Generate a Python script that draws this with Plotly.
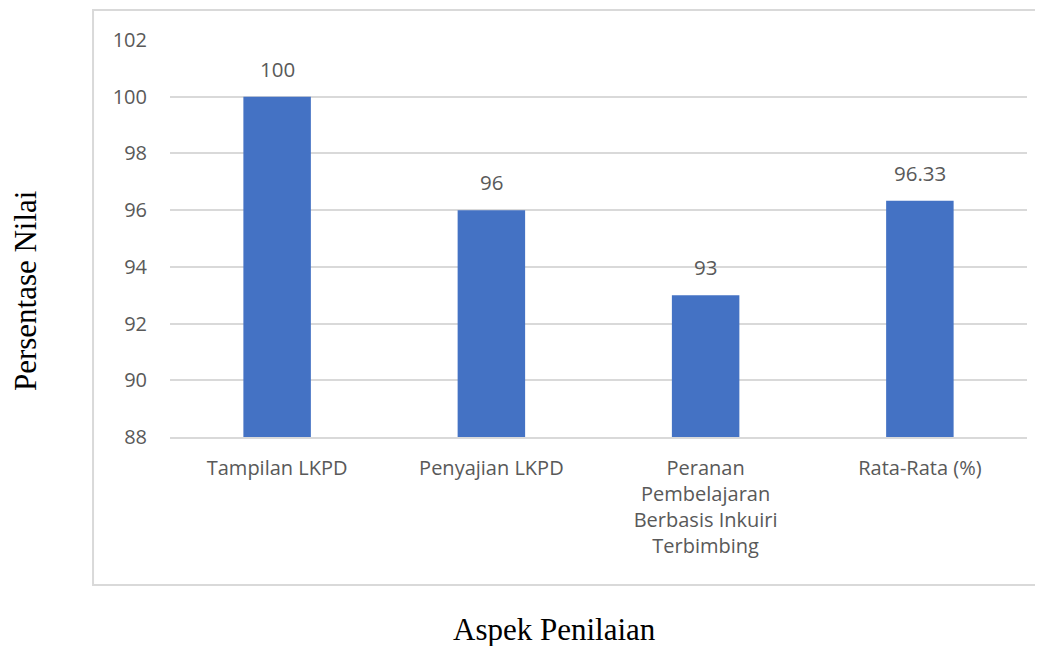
import plotly.graph_objects as go

categories = ["Tampilan LKPD", "Penyajian LKPD",
              "Peranan<br>Pembelajaran<br>Berbasis Inkuiri<br>Terbimbing", "Rata-Rata (%)"]
values = [100, 96, 93, 96.33]
value_labels = ["100", "96", "93", "96.33"]
y_ticks = [88, 90, 92, 94, 96, 98, 100, 102]

fig = go.Figure(go.Bar(
    x=categories, y=values,
    marker=dict(color="#4472C4", line=dict(width=0)), width=0.315,
))

label_annotations = [
    dict(x=c, y=v, text=t, xref="x", yref="y", showarrow=False, yanchor="bottom",
         yshift=12, font=dict(family="Open Sans", size=20.5, color="#595959"))
    for c, v, t in zip(categories, values, value_labels)
]

fig.update_layout(
    width=1043, height=646, plot_bgcolor="white", paper_bgcolor="white",
    margin=dict(l=162, r=24, t=32, b=217), showlegend=False,
    font=dict(family="Open Sans", size=20, color="#595959"),
    xaxis=dict(showgrid=False, showline=True, linecolor="#d9d9d9", linewidth=2,
               ticks="", ticklabelstandoff=12, tickfont=dict(size=20, color="#595959")),
    yaxis=dict(range=[88, 102], tickvals=y_ticks, showgrid=True, gridcolor="#d9d9d9",
               gridwidth=2, zeroline=False, showline=False, ticks="", ticklabelstandoff=22,
               tickfont=dict(size=20, color="#595959")),
    shapes=[dict(type="rect", xref="paper", yref="paper", x0=-0.0898, x1=1.08,
                 y0=-0.3728, y1=1.0756, line=dict(color="#d9d9d9", width=2), layer="below")],
    annotations=label_annotations + [
        dict(text="Persentase Nilai", xref="paper", yref="paper", x=-0.1692, y=0.37,
             xanchor="center", yanchor="middle", textangle=-90, showarrow=False,
             font=dict(family="Liberation Serif", size=31, color="black")),
        dict(text="Aspek Penilaian", xref="paper", yref="paper", x=0.449, y=-0.486,
             xanchor="center", yanchor="middle", showarrow=False,
             font=dict(family="Liberation Serif", size=31, color="black")),
    ],
)

fig.write_html("out.html")
